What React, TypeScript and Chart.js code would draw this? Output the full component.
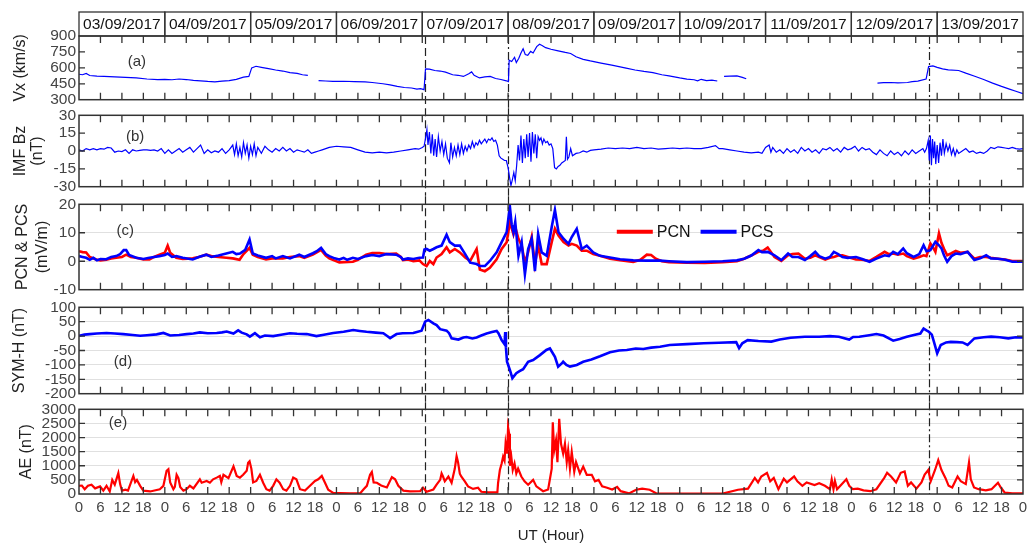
import React, { useEffect, useRef } from "react";
import { Chart, registerables } from "chart.js";

Chart.register(...registerables);
const FONT = "'Liberation Sans', Arial, Helvetica, sans-serif";
Chart.defaults.font.family = FONT;

type Pt = [number, number | null];

const DATES = [
  "03/09/2017", "04/09/2017", "05/09/2017", "06/09/2017", "07/09/2017", "08/09/2017",
  "09/09/2017", "10/09/2017", "11/09/2017", "12/09/2017", "13/09/2017",
];
const HOUR_LABELS = ["0", "6", "12", "18"];
const EVENT_HOURS = [96.9, 120, 237.6];
const EVENT_STYLES = ["dash", "dashdot", "dashdot"];
const LEGEND_LABELS = ["PCN", "PCS"];

const VX: Pt[] = [
  [0, 540], [1, 535], [2, 548], [3, 528], [5, 522], [7, 519], [10, 515], [13, 510], [16, 505], [19, 495],
  [22, 490], [24, 492], [26, 488], [28, 495], [30, 490], [32, 482], [34, 478], [36, 472], [38, 468], [40, 475],
  [42, 480], [44, 492], [46, 512], [47.5, 520], [48.3, 600], [49.5, 615], [51, 605], [53, 592], [55, 580],
  [57, 570], [59, 555], [61, 548], [62.5, 535], [64, 530], [65, null], [67, 480], [69, 476], [71, 472],
  [74, 474], [77, 470], [80, 468], [82, 462], [85, 450], [87, 440], [89, 425], [91, 415], [93, 410],
  [94.5, 400], [95.5, 405], [96.5, 395], [96.9, 590], [98, 588], [99.5, 575], [101, 570], [102.5, 560],
  [104.5, 535], [106, 530], [107.5, 519], [109, 545], [109.8, 562], [110.5, 530], [112, 505], [113.5, 515],
  [115, 520], [116.5, 500], [118, 490], [119.5, 478], [120.1, 470], [120.3, 672], [121, 660], [121.8, 700],
  [122.3, 650], [123, 690], [123.6, 740], [124.2, 780], [124.8, 725], [125.5, 718], [126.3, 755], [127, 740],
  [128, 800], [128.8, 822], [129.5, 810], [130.5, 790], [132, 775], [134, 760], [136, 745], [137.5, 735],
  [139, 705], [141, 680], [143, 665], [146, 645], [149, 625], [151, 612], [153, 598], [155.5, 580],
  [158, 566], [160.5, 555], [163, 535], [165, 525], [168, 505], [170, 494], [172, 488], [173, 478],
  [174, 492], [175.5, 480], [177, 485], [178.5, 476], [179.2, null], [180.4, 520], [182, 522], [184, 525],
  [185.5, 510], [186.6, 497], [187, null], [223.3, 456], [225, 460], [227, 462], [229, 458], [231.7, 462],
  [233, 470], [234.6, 475], [236.9, 494], [237.6, 612], [238.8, 619], [240, 605], [241.5, 590], [243.1, 581],
  [246, 575], [248, 550], [250.7, 519], [253, 490], [255.5, 456], [258, 425], [260.2, 400], [262, 380],
  [264, 356],
];

const IMF_BZ: Pt[] = [
  [0, 1], [1, 0], [2, 2], [3, 1], [4, 2], [5, 1], [6, 2], [7, 1.5], [8, 3], [9, 2.5], [10, -1], [11, 0],
  [12, -0.5], [13, 1], [14, -2], [15, 1], [16, 0], [17, 0.5], [18, 1], [19, 1], [20, 0.5], [21, 1], [22, 0],
  [23, 2], [24, -2], [25, 1], [26, -2], [27, 0], [28, 2], [29, -1], [30, 1], [31, 3], [32, -1], [33, 2],
  [34, 5], [35, -2], [36, 1], [37, -1.5], [38, 0], [39, -1], [40, 2], [41, -2], [42, 1], [43, 5], [43.5, -3],
  [44, 6], [44.5, -4], [45, 3], [45.5, -5], [46, 7], [46.5, -2], [47, 5], [47.5, -6], [48, 4], [48.5, -3],
  [49, 6], [49.5, -4], [50, 3], [51, -2], [52, 4], [53, 1], [54, -1], [55, 2], [56, 0], [57, 3], [58, 0],
  [59, 2], [60, -1], [61, 1], [62, 0], [63, -1], [64, 1], [65, -2], [66, -1], [67, 0], [68, 1], [69, 2],
  [70, 3], [72, 4], [74, 3.5], [76, 3], [78, 1], [80, -1], [82, -1.5], [84, -1], [86, -1.5], [88, -1],
  [90, 0], [92, 1], [94, 2], [95, 1.5], [96, 3], [96.5, 4], [97, 12], [97.3, 18], [97.6, 5], [98, 16],
  [98.4, -2], [98.8, 14], [99.2, -4], [99.6, 10], [100, -5], [100.5, 12], [101, 0], [101.5, 8], [102, -3],
  [102.5, 6], [103, -6], [103.6, -10], [104, 7], [104.5, -5], [105, 3], [105.5, -4], [106, 5], [106.5, -3],
  [107, 6], [107.5, -2], [108, 4], [108.5, 0], [109, 5], [109.5, 2], [110, 8], [110.5, 3], [111, 7],
  [111.5, 5], [112, 9], [112.5, 6], [113, 8], [113.5, 10], [114, 7], [114.5, 10], [115, 9], [115.5, 11],
  [116, 8], [116.5, 9], [117, 5], [117.5, -4], [118, -6], [118.5, -7], [119, -8], [119.5, -8], [120, -14],
  [120.4, -22], [120.8, -29], [121.2, -24], [121.6, -18], [122, -25], [122.4, -12], [122.8, 5], [123.2, -8],
  [123.6, 13], [124, -10], [124.4, 10], [124.8, -6], [125.2, 14], [125.6, -5], [126, 15], [126.4, -9],
  [126.8, 16], [127.2, -2], [127.6, 14], [128, -6], [128.4, 12], [128.8, 9], [129.2, 11], [129.6, 6],
  [130, 10], [130.5, 7], [131, 8], [131.5, 5], [132, 6], [132.5, 2], [133, -14], [133.5, -15], [134, -13],
  [134.5, -12], [135, -10], [135.5, -9], [136, -8], [136.3, 12], [136.6, -7], [137, -5], [137.5, 2],
  [138, -4], [139, -2], [140, -1.5], [141, 0], [142, -1], [143, 0.5], [144, 1], [146, 1.5], [148, 2.5],
  [150, 2], [152, 2.5], [154, 2], [156, 3], [158, 2], [160, 2.5], [162, 1.5], [164, 2], [166, 2.5], [168, 2],
  [170, 2.5], [172, 2], [174, 2], [176, 3], [178, 4.5], [179, 2], [180, 2], [182, 1], [184, 0], [186, -1],
  [188, -1.5], [190, -1], [191, -2], [192, 3], [193, 5], [193.5, -1], [194, 3], [195, -1], [196, 1],
  [197, -2], [198, 2], [199, -1], [200, 1], [201, -2], [202, 3], [203, 0], [204, 2], [205, -1], [206, 1],
  [207, -2], [208, 2], [209, 1], [210, 3], [211, 0], [212, 2], [213, -1], [214, 3], [215, 1], [216, 2],
  [217, 4], [218, 0], [219, 3], [220, 1], [221, 2], [222, -1], [223, -3], [224, 1], [225, -2], [226, -4],
  [227, 0], [228, -3], [229, -1], [230, -4], [231, 0], [232, -3], [233, 1], [234, -2], [235, 0], [236, 2],
  [236.5, -1], [237, 2], [237.5, 9], [237.8, -8], [238.1, 13], [238.4, -12], [238.7, 10], [239, -6],
  [239.3, 8], [239.6, -11], [240, 5], [240.4, -10], [240.8, 7], [241.2, -4], [241.6, 10], [242, -2],
  [242.5, 6], [243, 0], [243.5, 5], [244, -3], [244.5, 2], [245, -4], [245.5, 1], [246, -2], [247, 0],
  [248, 2], [249, -1], [250, 0], [251, -2], [252, -1], [253, -2], [254, 0], [255, 3], [256, 2], [257, 3.5],
  [258, 3], [259, 2.5], [260, 2], [261, 3], [262, 2], [263, 1.5], [264, 2],
];

const PCS: Pt[] = [
  [0, 1.8], [1, 1.5], [2, 1.2], [3, 0.5], [4, 1.2], [5, 0.3], [6, 0.8], [7.6, 0.7], [9, 1.5], [10.4, 1.8],
  [11.5, 2.5], [12.5, 3.9], [13.2, 3.9], [14, 2.2], [16, 1.2], [18, 0.8], [19.7, 1.2], [21, 1.5], [22.5, 1.8],
  [24, 2.2], [24.8, 2.7], [26, 1.5], [27.2, 1.8], [29, 1.2], [31.8, 0.6], [33.5, 1.5], [35.6, 2.3], [37, 1.5],
  [39, 2], [41.2, 2.7], [43, 3.3], [44, 2.5], [45, 2.7], [46.5, 4], [47.7, 7.6], [48.6, 2.7], [50, 2],
  [52.3, 1.2], [54, 1.8], [55, 1], [57, 1.8], [59, 1], [61.6, 2.3], [63, 1.5], [65.4, 2.8], [66.5, 3.5],
  [67.7, 4.7], [69, 2.5], [70, 1.8], [71.5, 1], [72.8, 0.6], [74, 1.2], [75, 0.5], [76.6, 1.2], [78, 0.8],
  [80.3, 1.8], [82, 2.2], [84, 1.8], [86, 2.5], [88.7, 2.3], [90, 1.5], [90.6, 0.6], [92, 1], [93.5, 0.8],
  [95.2, 1.2], [96.2, 1.3], [96.6, 4.1], [97.2, 4.3], [98.1, 3.7], [99.1, 4.3], [100, 4.9], [101.4, 5.5],
  [102.8, 9.3], [103.7, 6.7], [105.1, 5.5], [106.5, 5.5], [108, 2.5], [109.4, -0.5], [111.2, -1],
  [112.1, -1.7], [113.5, -1.7], [114.9, 0.1], [116.8, 3.1], [118.2, 6.7], [119.6, 10.2], [120.5, 19.2],
  [121, 13], [121.5, 10.2], [122, 13.8], [122.9, 1.9], [123.8, 6.7], [124.7, -4.6], [125.6, 4.3],
  [126.6, 7.9], [127.5, -3.5], [128.4, 9.6], [129.4, 3.1], [130.8, 1.9], [132.2, 12], [133.1, 18],
  [134.1, 10.2], [135.5, 7.9], [136.9, 6.1], [137.8, 8.5], [139.2, 11.4], [140.6, 4.3], [142, 5.5],
  [143.8, 3.1], [145.7, 1.9], [148.5, 1.3], [151.3, 0.7], [155, 0.3], [158.8, 0.2], [162.5, 0.2], [165, 0],
  [170, -0.3], [175, -0.2], [180, 0], [184, 0.3], [186, 0.9], [188, 2], [190, 3.9], [191, 3.2], [192.6, 3.3],
  [194.5, 2.1], [196.4, 0.4], [198.3, 2.7], [199.5, 1.5], [201.2, 1.5], [203, 0.4], [204.5, 1.8],
  [205.9, 3.3], [207, 1.8], [208.7, 0.9], [210, 1.5], [211.1, 3.3], [212.3, 2.5], [213.5, 1.5], [215, 1.2],
  [217.3, 1.5], [219, 0.8], [221.1, -0.2], [223, 0.9], [225.3, 2.1], [226.5, 1.8], [227.7, 3.3], [229, 2.5],
  [230.5, 4.5], [231.5, 2.8], [233.4, 1.5], [235, 2.5], [236.2, 5.6], [237, 3.5], [238.1, 3.9], [239.5, 6.8],
  [240.5, 5.6], [241.2, 4.5], [241.9, 2.1], [242.8, -0.2], [244, 1.8], [245.2, 2.7], [246.5, 2.5],
  [248.5, 3.3], [250.4, 0.4], [252, 1], [253.7, 2.1], [255, 1], [257, 0.9], [259, 0.5], [261, -0.2],
  [264, -0.2],
];

const PCN: Pt[] = [
  [0, 3.5], [1, 3.2], [2, 3.1], [3, 1.5], [4.8, 0.6], [6, 0.3], [7.6, 0.5], [9, 1], [10.4, 1.2], [12, 1.5],
  [13.2, 2.3], [14.5, 1.5], [16, 1.2], [18, 0.6], [19.7, 0.6], [21, 1.5], [22.5, 2.3], [24, 3], [24.8, 5.5],
  [25.5, 3], [27.2, 1.2], [29, 0.8], [31.8, 1], [33.5, 1.5], [35.6, 2.3], [37, 1.8], [39, 1.5], [41.2, 1.2],
  [43, 1], [44.9, 0.5], [46, 2.5], [47.7, 4.7], [48.6, 2.3], [50, 1.5], [52.3, 0.6], [54, 1], [57, 1],
  [59, 1.5], [61.6, 1.8], [63, 1.2], [65.4, 2.3], [67.7, 4], [69, 2], [70, 1], [71.5, 0.2], [72.8, -0.4],
  [74, -0.3], [76.6, -0.2], [78, 0.5], [80.3, 2.3], [82, 2.9], [84, 2.9], [86, 2.5], [88.7, 2.7], [90, 1.5],
  [90.6, 0.4], [92, 0.6], [93.5, 0], [95.2, 0.3], [96.2, -1], [97.2, -1.7], [98.1, 0.1], [99.1, -1],
  [100, 1.3], [101.4, 2.5], [102.8, 4.9], [103.7, 3.1], [105.1, 4.3], [106.5, 3.1], [108, 1.3], [109.4, 0.1],
  [111.2, 4.3], [112.1, -2.9], [113.5, -3.5], [114.9, -2.3], [116.8, 0.7], [118.2, 4.3], [119.6, 6.7],
  [120.5, 13.8], [121.5, 9.5], [122, 12], [122.9, 7.9], [123.8, 5.5], [124.7, -0.5], [125.6, 3.1],
  [126.6, 8.5], [127.5, -1], [128.4, 5.5], [129.4, -1], [130.8, -1], [132.2, 6.7], [133.1, 11.4], [134.1, 9],
  [135.5, 6.7], [136.9, 5.5], [137.8, 6.1], [139.2, 5.5], [140.6, 3.7], [142, 3.7], [143.8, 2.5],
  [145.7, 1.9], [148.5, 0.9], [151.3, 0.4], [155, -0.2], [157, 0.5], [158.8, 2.3], [160, 2.2], [161.3, 0.9],
  [163, 0], [165, -0.3], [170, -0.5], [175, -0.6], [180, -0.3], [184, 0], [186, 0.9], [188, 2], [190, 3.3],
  [191.5, 3.8], [192.6, 4.8], [194.5, 1.5], [196.4, 0.1], [198.3, 2.1], [199.5, 2.5], [201.2, 2.7],
  [203, 0.9], [204.5, 1.2], [205.9, 2.1], [207, 1.5], [208.7, 0.6], [210, 1.2], [211.1, 1.5], [212.3, 2],
  [213.5, 2.1], [215, 1.5], [217.3, 0.6], [219, 0.5], [221.1, 0.1], [223, 1.5], [225.3, 3.3], [226.5, 2.5],
  [227.7, 2.7], [229, 2.3], [230.5, 2.7], [231.5, 1.8], [233.4, 0.9], [235, 1.5], [236.2, 2.1], [237, 1.8],
  [238.1, 6.2], [239, 4.5], [239.5, 3.3], [240.5, 9.8], [241.2, 6.5], [241.9, 4.4], [242.8, 2.1], [244, 2.8],
  [245.2, 3.6], [246.5, 3], [248.5, 3.3], [250.4, 0.9], [252, 1.5], [253.7, 1.5], [255, 1.2], [257, 0.9],
  [259, 0.6], [261, 0.1], [264, 0.1],
];

const SYM_H: Pt[] = [
  [0, 1], [1.5, 5], [3, 7], [5, 9], [7.7, 11], [10, 9], [12.4, 7], [15, 4], [17.1, 1], [19, 3], [21.7, 6],
  [23.6, 11], [25.5, 2], [28, 4], [30.1, 7], [32, 9], [33.8, 13], [36, 10], [38.5, 11], [40, 13], [41.3, 16],
  [43.2, 9], [44.5, 20], [45.5, 12], [46.9, 6], [47.8, -2], [49.2, 10], [50.6, -4], [52, 2], [54.3, 0],
  [56.5, 5], [59, 10], [61, 8], [63.7, 7], [66.4, 0], [68.5, 5], [71.1, 11], [74, 15], [76.7, 21],
  [78.5, 18], [80.4, 15], [83, 12], [85.1, 10], [86, 2], [87, -7], [88.8, 7], [90.5, 10], [93.5, 11],
  [95.8, 19], [96.8, 50], [97.7, 56], [99.1, 44], [100, 38], [101, 24], [102.8, 19], [103.5, 10],
  [104.2, -8], [106.1, -12], [107.5, -5], [108.4, -3], [110, -8], [111.2, -5], [112.5, 2], [114, 9],
  [115.5, 14], [116.8, 18], [117.3, 10], [118.2, -14], [119, -28], [119.2, 14], [119.4, -40], [119.7, -89],
  [120.5, -117], [121.2, -146], [122.3, -129], [123.2, -122], [124.2, -115], [125.6, -89], [127, -83],
  [128.9, -66], [130.7, -48], [131.7, -43], [133.1, -72], [134, -106], [135, -95], [135.4, -89],
  [136.3, -100], [137.3, -106], [139.2, -100], [141, -89], [143.3, -81], [145.7, -70], [148.5, -56],
  [151, -50], [153.2, -48], [155.7, -43], [157.8, -45], [160, -40], [162.5, -37], [165.2, -31], [170, -28],
  [174.7, -25], [179, -23], [183.8, -21], [184.6, -42], [185.5, -25], [187, -14], [190, -17], [193.6, -19],
  [196, -12], [199, -6], [203, -2], [207, -2], [210, 0], [212.5, -2], [215.4, -12], [216.5, -3],
  [218.2, -2], [221, 3], [223, 7], [225, 2], [227.7, -16], [229.5, -10], [231.5, -2], [233.5, 4],
  [235.3, 9], [236.2, 26], [237, 20], [237.6, 16], [238.5, 5], [239.1, -20], [240, -60], [241, -31],
  [242.5, -22], [243.8, -20], [245.5, -21], [247.1, -22], [248.5, -31], [250.4, -8], [253, -4], [255.1, -2],
  [257.5, -4], [259.9, -8], [262, -4], [264, -5],
];

const AE: Pt[] = [
  [0, 290], [0.8, 300], [1.6, 170], [2.5, 290], [3.5, 330], [4.5, 200], [5.9, 270], [6.8, 120], [7.7, 290],
  [8.6, 90], [9.3, 500], [10, 330], [11, 740], [11.5, 350], [12, 120], [13, 150], [13.7, 120], [15.2, 640],
  [15.7, 420], [16.2, 500], [17.1, 290], [18, 120], [19.9, 90], [22.6, 170], [23.6, 290], [24.5, 820],
  [25, 880], [25.5, 410], [26.4, 170], [26.8, 250], [27.3, 680], [27.8, 560], [28.3, 250], [29.2, 120],
  [30.1, 170], [31, 290], [32, 200], [33.8, 520], [34.3, 400], [35.7, 460], [36.6, 400], [37.5, 520],
  [38.5, 580], [39.4, 640], [39.8, 420], [40.4, 680], [41.8, 560], [43.2, 980], [44.1, 640], [45, 580],
  [45.9, 680], [46.9, 820], [47.3, 1110], [47.7, 1160], [48.2, 900], [48.7, 410], [49.6, 460], [50.6, 680],
  [51.5, 400], [52.4, 170], [53.3, 120], [54.3, 290], [55.2, 520], [56.1, 400], [57.1, 170], [58, 120],
  [59, 290], [59.9, 580], [60.8, 520], [61.8, 170], [63.2, 120], [64.6, 290], [66, 460], [66.9, 520],
  [67.9, 640], [68.8, 400], [69.7, 150], [71.1, 40], [73, 30], [75.8, 20], [78.6, 20], [79.6, 170],
  [80.5, 290], [81.4, 680], [81.9, 780], [82.4, 410], [83.3, 400], [84.5, 300], [86.1, 230], [87.5, 600],
  [88.4, 520], [89.3, 290], [90.7, 120], [92.6, 90], [95.4, 100], [96.2, 220], [97.2, 80], [99.1, 160],
  [100, 330], [101, 500], [101.4, 730], [101.8, 620], [102.3, 450], [103.3, 620], [104.2, 400], [105.1, 900],
  [105.6, 1340], [106, 1130], [106.5, 720], [106.9, 620], [107.9, 450], [108.8, 270], [110.2, 180],
  [111.6, 220], [112.5, 80], [114.5, 60], [117, 60], [117.2, 390], [117.7, 850], [118.2, 1080],
  [118.6, 1320], [119, 1180], [119.3, 1780], [119.7, 1430], [120, 2360], [120.3, 2130], [120.5, 1000],
  [120.9, 1320], [121.3, 850], [121.8, 1080], [122.3, 730], [122.8, 900], [123.7, 620], [124.6, 450],
  [125.6, 330], [127, 500], [127.9, 270], [129.8, 100], [131.2, 160], [132.2, 900], [132.5, 2540],
  [132.9, 1550], [133.4, 1900], [133.8, 1130], [134.3, 2660], [134.8, 1780], [135.4, 1430], [135.9, 1780],
  [136.4, 1130], [136.8, 1550], [137.3, 900], [137.8, 1490], [138.5, 790], [139, 1130], [140.1, 730],
  [141, 970], [142, 680], [143.4, 680], [144.3, 450], [145.3, 500], [146.3, 270], [147.7, 220], [149.1, 160],
  [150.5, 250], [151.5, 100], [153.8, 20], [155.8, 150], [157.5, 190], [159.6, 150], [161.5, 20], [165, 10],
  [170, 10], [175, 10], [180, 15], [184.3, 150], [187.1, 190], [189, 570], [189.9, 410], [190.8, 620],
  [192.4, 750], [193.3, 450], [194.3, 570], [195.6, 170], [197.1, 540], [198, 410], [200, 620], [200.9, 450],
  [202.3, 290], [203.5, 410], [205.7, 320], [207, 380], [208.6, 290], [210, 170], [210.5, 520], [211, 170],
  [211.4, 460], [212, 170], [214.6, 520], [215.4, 290], [216.4, 170], [217.8, 190], [219.4, 130],
  [221.3, 100], [223, 170], [225.2, 570], [226, 750], [227.1, 620], [228.5, 410], [229.8, 750], [230.9, 800],
  [231.8, 290], [232.7, 410], [234.2, 190], [235.6, 410], [236.5, 690], [237.5, 850], [238.2, 450],
  [239.4, 850], [240.3, 1200], [241.2, 850], [242.3, 570], [243.2, 290], [244.2, 230], [245.7, 620],
  [246.6, 450], [248, 350], [248.9, 1120], [249.4, 520], [250.3, 230], [251.6, 170], [253.6, 130],
  [255.2, 170], [257, 400], [257.8, 230], [258.9, 50], [261, 20], [264, 20],
];

const BLUE = "#0000ff";
const RED = "#ff0000";

type Series = { label: string; data: Pt[]; color: string; width: number };
type PanelSpec = {
  key: string;
  canvasTop: number;
  canvasH: number;
  padTop: number;
  padBottom: number;
  ymin: number;
  ymax: number;
  step: number;
  title: string[];
  titleLH: number;
  titlePad: number;
  grid: boolean;
  series: Series[];
  label: string;
  labelAt: [number, number];
  ext: [number, number];
  header?: boolean;
  legendAt?: [number, number];
  bottomAxis?: boolean;
};

const PANELS: PanelSpec[] = [
  {
    key: "a", canvasTop: 4, canvasH: 108, padTop: 32, padBottom: 12, ymin: 300, ymax: 900, step: 150,
    title: ["Vx (km/s)"], titleLH: 1.2, titlePad: 11, grid: false,
    series: [{ label: "Vx", data: VX, color: BLUE, width: 1.2 }],
    label: "(a)", labelAt: [16.2, 656], ext: [0, 8], header: true,
  },
  {
    key: "b", canvasTop: 103, canvasH: 96, padTop: 12, padBottom: 12, ymin: -30, ymax: 30, step: 15,
    title: ["IMF Bz", "(nT)"], titleLH: 1.05, titlePad: 12, grid: false,
    series: [{ label: "IMF Bz", data: IMF_BZ, color: BLUE, width: 1.2 }],
    label: "(b)", labelAt: [15.7, 12], ext: [7, 9],
  },
  {
    key: "c", canvasTop: 192, canvasH: 110, padTop: 12, padBottom: 12, ymin: -10, ymax: 20, step: 10,
    title: ["PCN & PCS", "(mV/m)"], titleLH: 1.25, titlePad: 13, grid: true,
    series: [
      { label: "PCS", data: PCS, color: BLUE, width: 2.6 },
      { label: "PCN", data: PCN, color: RED, width: 2.6 },
    ],
    label: "(c)", labelAt: [12.9, 10.8], ext: [8, 9], legendAt: [150.4, 10.4],
  },
  {
    key: "d", canvasTop: 295, canvasH: 111, padTop: 12, padBottom: 12, ymin: -200, ymax: 100, step: 50,
    title: ["SYM-H (nT)"], titleLH: 1.2, titlePad: 10, grid: true,
    series: [{ label: "SYM-H", data: SYM_H, color: BLUE, width: 2.6 }],
    label: "(d)", labelAt: [12.3, -90], ext: [8, 8],
  },
  {
    key: "e", canvasTop: 397, canvasH: 151, padTop: 12, padBottom: 3, ymin: 0, ymax: 3000, step: 500,
    title: ["AE (nT)"], titleLH: 1.2, titlePad: 17, grid: true,
    series: [{ label: "AE", data: AE, color: RED, width: 2.2 }],
    label: "(e)", labelAt: [10.9, 2506], ext: [7, 0], bottomAxis: true,
  },
];

const decorPlugin = {
  id: "decor",
  beforeDatasetsDraw(chart: any, _args: any, o: any) {
    const { ctx, chartArea: ca } = chart;
    const xs = chart.scales.x;
    ctx.save();
    ctx.strokeStyle = "#222";
    ctx.lineWidth = 1.2;
    EVENT_HOURS.forEach((h, i) => {
      const x = Math.round(xs.getPixelForValue(h)) + 0.5;
      ctx.setLineDash(EVENT_STYLES[i] === "dash" ? [8, 4] : [8, 3, 2, 3]);
      ctx.beginPath();
      ctx.moveTo(x, ca.top - o.extTop);
      ctx.lineTo(x, ca.bottom + o.extBottom);
      ctx.stroke();
    });
    ctx.restore();
  },
  afterDraw(chart: any, _args: any, o: any) {
    const { ctx, chartArea: ca } = chart;
    const xs = chart.scales.x;
    const ys = chart.scales.y;
    ctx.save();
    ctx.setLineDash([]);
    ctx.strokeStyle = "#333";
    ctx.lineWidth = 1.3;
    ctx.beginPath();
    for (let h = 6; h < 264; h += 6) {
      const x = xs.getPixelForValue(h);
      ctx.moveTo(x, ca.top);
      ctx.lineTo(x, ca.top + 7);
      ctx.moveTo(x, ca.bottom);
      ctx.lineTo(x, ca.bottom - 7);
    }
    ys.ticks.forEach((t: any) => {
      if (t.value <= ys.min || t.value >= ys.max) return;
      const y = ys.getPixelForValue(t.value);
      ctx.moveTo(ca.left, y);
      ctx.lineTo(ca.left + 6, y);
      ctx.moveTo(ca.right, y);
      ctx.lineTo(ca.right - 6, y);
    });
    ctx.stroke();
    ctx.lineWidth = 1.5;
    ctx.strokeRect(ca.left, ca.top, ca.right - ca.left, ca.bottom - ca.top);

    // panel label
    ctx.fillStyle = "#333";
    ctx.font = `15px ${FONT}`;
    ctx.textAlign = "center";
    ctx.textBaseline = "middle";
    ctx.fillText(o.label, xs.getPixelForValue(o.labelAt[0]), ys.getPixelForValue(o.labelAt[1]));

    if (o.header) {
      const top = 8;
      ctx.strokeStyle = "#333";
      ctx.lineWidth = 1.3;
      ctx.fillStyle = "#111";
      ctx.font = `15.5px ${FONT}`;
      DATES.forEach((d, i) => {
        const x0 = xs.getPixelForValue(i * 24);
        const x1 = xs.getPixelForValue((i + 1) * 24);
        ctx.strokeRect(x0, top, x1 - x0, ca.top - top);
        ctx.fillText(d, (x0 + x1) / 2, (top + ca.top) / 2 + 1);
      });
    }

    if (o.legendAt) {
      let x = xs.getPixelForValue(o.legendAt[0]);
      const y = ys.getPixelForValue(o.legendAt[1]);
      ctx.font = `16px ${FONT}`;
      ctx.textAlign = "left";
      ctx.fillStyle = "#111";
      LEGEND_LABELS.forEach((lab) => {
        const ds = chart.data.datasets.find((d: any) => d.label === lab);
        ctx.strokeStyle = ds.borderColor;
        ctx.lineWidth = 4;
        ctx.beginPath();
        ctx.moveTo(x, y);
        ctx.lineTo(x + 36, y);
        ctx.stroke();
        ctx.fillText(lab, x + 40, y + 1);
        x += 40 + ctx.measureText(lab).width + 10;
      });
    }
    ctx.restore();
  },
};

function buildConfig(p: PanelSpec): any {
  return {
    type: "line",
    data: {
      datasets: p.series.map((s) => ({
        label: s.label,
        data: s.data.map(([x, y]) => ({ x, y })),
        borderColor: s.color,
        backgroundColor: s.color,
        borderWidth: s.width,
        pointRadius: 0,
        tension: 0,
        spanGaps: false,
        fill: false,
      })),
    },
    options: {
      responsive: false,
      maintainAspectRatio: false,
      animation: false,
      events: [],
      layout: { padding: { left: 0, right: 10, top: p.padTop, bottom: p.padBottom } },
      plugins: {
        legend: { display: false },
        tooltip: { enabled: false },
        decor: {
          label: p.label,
          labelAt: p.labelAt,
          extTop: p.ext[0],
          extBottom: p.ext[1],
          header: !!p.header,
          legendAt: p.legendAt,
        },
      },
      scales: {
        x: {
          type: "linear",
          min: 0,
          max: 264,
          display: !!p.bottomAxis,
          grid: { display: false, drawTicks: false },
          border: { display: false },
          ticks: {
            stepSize: 6,
            autoSkip: false,
            maxRotation: 0,
            minRotation: 0,
            padding: 5,
            color: "#444",
            font: { size: 15 },
            callback: (v: number) => HOUR_LABELS[Math.round(v / 6) % 4],
          },
          title: {
            display: true,
            text: "UT (Hour)",
            color: "#222",
            font: { size: 15 },
            padding: { top: 5, bottom: 0 },
          },
        },
        y: {
          type: "linear",
          min: p.ymin,
          max: p.ymax,
          afterFit: (s: any) => {
            s.width = 79;
          },
          grid: { display: p.grid, color: "#e0e0e0", drawTicks: false, lineWidth: 1 },
          border: { display: false },
          ticks: {
            stepSize: p.step,
            autoSkip: false,
            padding: 3,
            color: "#444",
            font: { size: 15.5 },
            callback: (v: number) => String(v),
          },
          title: {
            display: true,
            text: p.title,
            color: "#222",
            font: { size: 16, lineHeight: p.titleLH },
            padding: { top: p.titlePad, bottom: 0 },
          },
        },
      },
    },
    plugins: [decorPlugin],
  };
}

function Panel({ spec }: { spec: PanelSpec }) {
  const ref = useRef<HTMLCanvasElement>(null);
  useEffect(() => {
    if (!ref.current) return;
    const chart = new Chart(ref.current, buildConfig(spec));
    return () => chart.destroy();
  }, [spec]);
  return (
    <canvas
      ref={ref}
      width={1033}
      height={spec.canvasH}
      style={{ position: "absolute", left: 0, top: spec.canvasTop, width: 1033, height: spec.canvasH }}
    />
  );
}

export default function App() {
  return (
    <div
      style={{
        position: "absolute",
        left: 0,
        top: 0,
        width: 1033,
        height: 548,
        background: "#ffffff",
        overflow: "hidden",
      }}
    >
      {PANELS.map((p) => (
        <Panel key={p.key} spec={p} />
      ))}
    </div>
  );
}
